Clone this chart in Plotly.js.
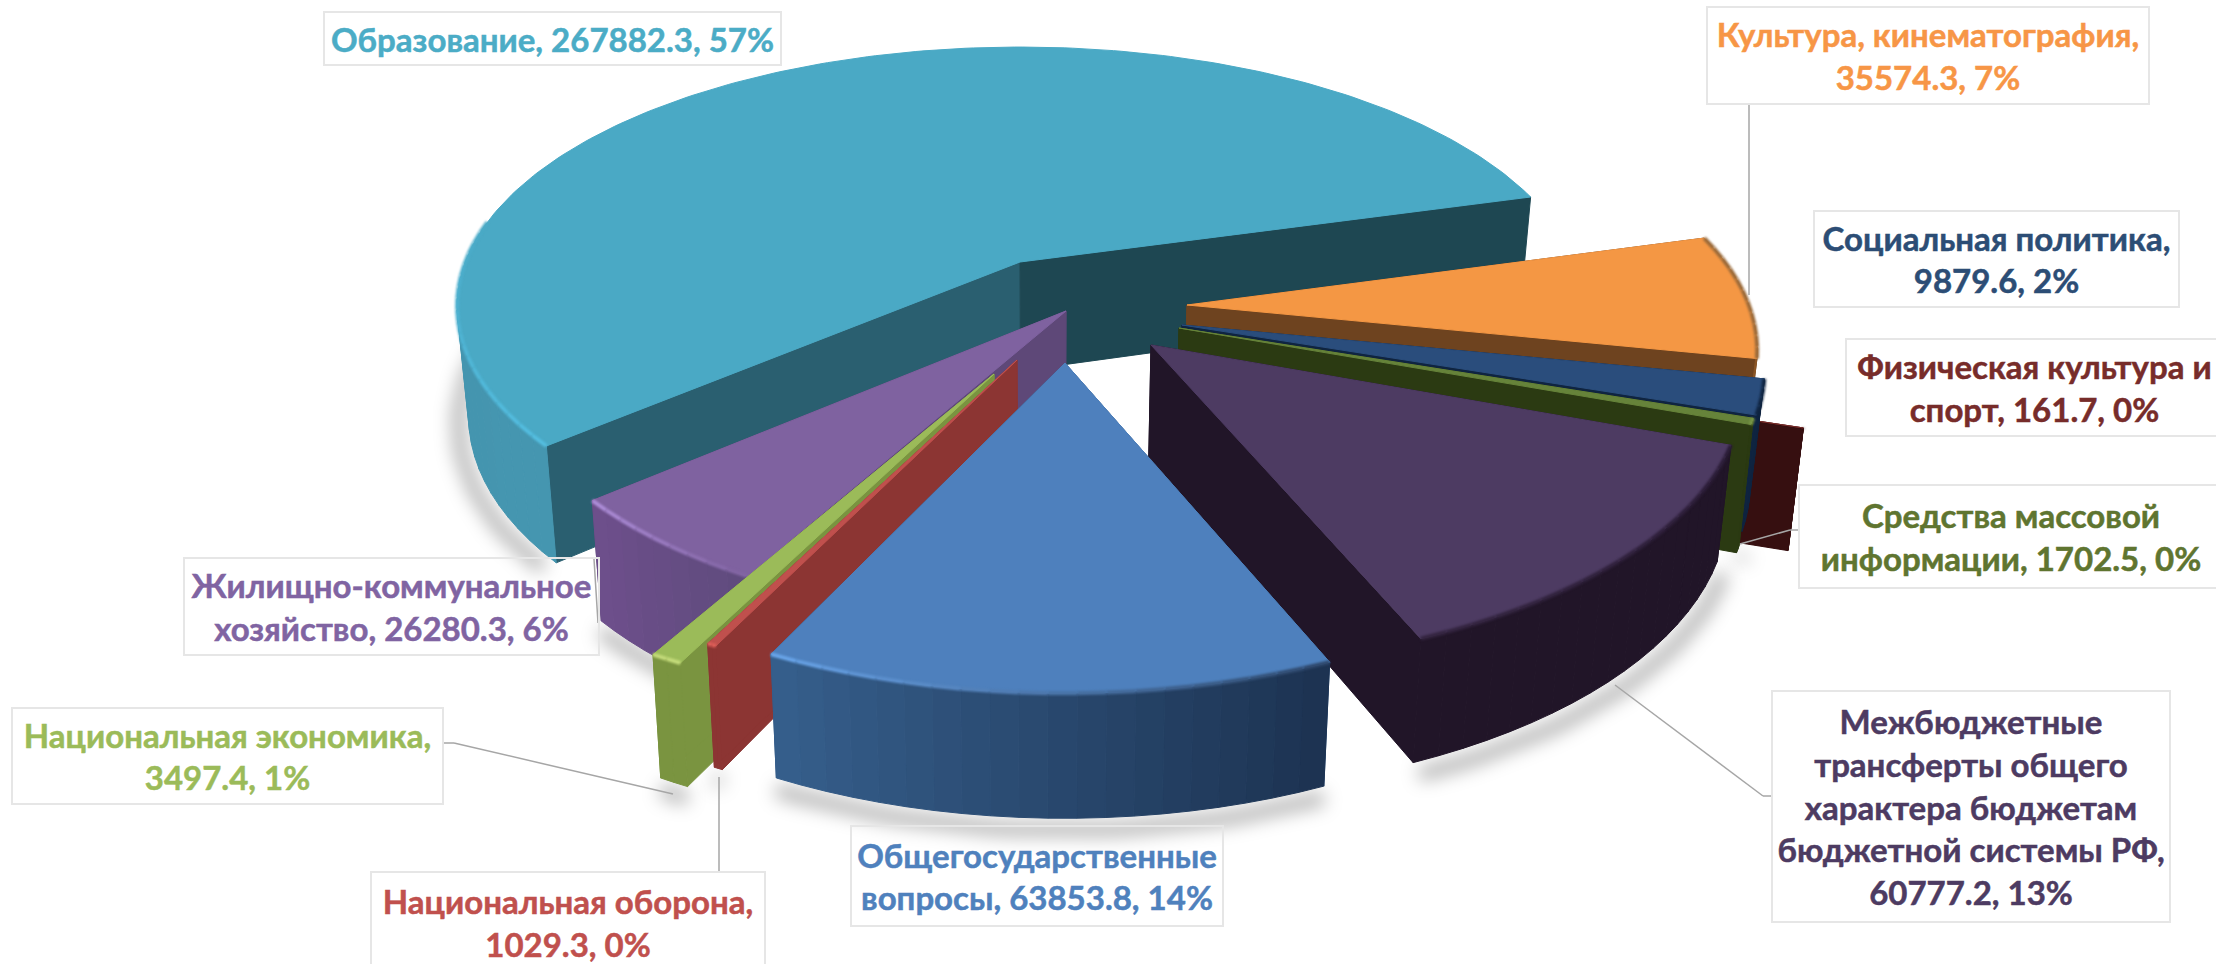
<!DOCTYPE html>
<html><head><meta charset="utf-8">
<script src="https://cdn.plot.ly/plotly-3.0.1.min.js"></script>
<style>html,body{margin:0;padding:0;background:#fff;overflow:hidden}</style></head>
<body><div id="chart" style="width:2216px;height:964px"></div>
<script>
// ---------- data ----------
const categories = ["Общегосударственные вопросы","Национальная оборона","Национальная экономика","Жилищно-коммунальное хозяйство","Образование","Культура, кинематография","Социальная политика","Физическая культура и спорт","Средства массовой информации","Межбюджетные трансферты общего характера бюджетам бюджетной системы РФ"];
const values = [63853.8,1029.3,3497.4,26280.3,267882.3,35574.3,9879.6,161.7,1702.5,60777.2];
const labels = [
 "Общегосударственные<br>вопросы, 63853.8, 14%",
 "Национальная оборона,<br>1029.3, 0%",
 "Национальная экономика,<br>3497.4, 1%",
 "Жилищно-коммунальное<br>хозяйство, 26280.3, 6%",
 "Образование, 267882.3, 57%",
 "Культура, кинематография,<br>35574.3, 7%",
 "Социальная политика,<br>9879.6, 2%",
 "Физическая культура и<br>спорт, 161.7, 0%",
 "Средства массовой<br>информации, 1702.5, 0%",
 "Межбюджетные<br>трансферты общего<br>характера бюджетам<br>бюджетной системы РФ,<br>60777.2, 13%"];
// ---------- style ----------
const labelColors = ["#4F81BD","#C0504D","#9BBB59","#8064A2","#4BACC6","#F79646","#2C4D75","#772C2A","#5F7530","#4D3B62"];
const topColors  = ["#4E80BD","#C0504D","#9BBB59","#7F62A0","#4AA9C5","#F49744","#2A4D7C","#772C2A","#66833A","#4D3B62"];
const wallFrom   = ["#1C3250","#8C3533","#7A9440","#5F4B7D","#4596B0","#A8682F","#0F2440","#360F10","#2B3A12","#211528"];
const wallTo     = ["#365F8D","#8C3533","#7A9440","#6E4F8C","#3E8DA8","#8A5526","#0F2440","#360F10","#2B3A12","#211528"];
const sideFrom   = ["#345B88","#8C3533","#7A9440","#5E4878","#2A5F70","#6E431F","#0F2440","#360F10","#2B3A12","#211528"];
const sideTo     = ["#345B88","#8C3533","#7A9440","#5E4878","#1E4752","#6E431F","#0F2440","#360F10","#2B3A12","#211528"];
const rimFrom    = ["#2C4568","#E0605A","#C3DA7A","#7F62A0","#54BEE0","#9A6A3A","#0F2440","#360F10","#7C9A4A","#2A1C36"];
const rimTo      = ["#6AA5EA","#E0605A","#C3DA7A","#B08FDB","#4AA9C5","#9A6A3A","#0F2440","#360F10","#7C9A4A","#33243F"];
const rimSpan    = [1,1,1,1,0.25,1,1,1,1,1];
const apexX = [1065,1017,994,1066,1020,1187,1182,1214,1179,1151];
const apexY = [363,360,374,311,262,305,325,340,328,345];
const radiusX = [1.035,1.06,1.075,1.005,1.005,1.018,1.04,1.067,1.04,1.055];
const radiusY = [1.09,1.07,1.09,1.03,1.0,1.03,1.035,1.01,1.03,1.07];
const wallScale = [1,1,1,1,0.97,1,1,1.05,1.1,1];
const drawOrder = [4,7,5,6,8,9,3,2,1,0];
const boxes = [[852,1222,827,925],[372,764,873,972],[13,442,709,803],[185,598,559,654],[325,780,13,64],[1708,2148,8,103],[1815,2178,212,306],[1847,2222,340,435],[1800,2222,486,587],[1773,2169,692,921]];
const labelSize = [33,33,33,33,33,33,33,33,33,33];
const leaders = [
 [[1749,103],[1749,295]],
 [[1773,796],[1763,796],[1615,685]],
 [[1800,530],[1790,530],[1740,544]],
 [[443,743],[454,743],[673,794]],
 [[719,777],[719,873]],
 [[594,559],[598,623]]];
// projection constants of the tilted disc
const A = 552, B = 251.5, P = 0.17, startAngle = 157, vanishX = 1040, vanishK = 0.02;

function hex(c){return [1,3,5].map(i=>parseInt(c.substr(i,2),16));}
function mix(a,b,t){const x=hex(a),y=hex(b);return 'rgb('+x.map((v,i)=>Math.round(v+(y[i]-v)*t)).join(',')+')';}
const total = values.reduce((a,b)=>a+b,0);
let acc = startAngle;
const spans = values.map(v=>{const s=acc;acc+=v/total*360;return [s,acc];});

function topPt(i,deg){
  const t=deg*Math.PI/180,X=Math.sin(t),Y=-Math.cos(t),w=1-P*Y;
  return [apexX[i]+radiusX[i]*A*X/w, apexY[i]+radiusY[i]*B*Y/w, Y];
}
function botPt(i,p){
  const h=(112+13*p[2])*wallScale[i];
  return [p[0]+(vanishX-p[0])*vanishK, p[1]+h];
}
const apexTop=i=>[apexX[i],apexY[i],0];
const traces=[], softShadow=[], softRim=[];
function poly(pts,color){
  traces.push({type:'scatter',mode:'lines',x:pts.map(p=>p[0]).concat(pts[0][0]),y:pts.map(p=>p[1]).concat(pts[0][1]),
    fill:'toself',fillcolor:color,line:{color:color,width:1},hoverinfo:'skip',showlegend:false});
}
function path(pts,color,width){
  traces.push({type:'scatter',mode:'lines',x:pts.map(p=>p[0]),y:pts.map(p=>p[1]),line:{color:color,width:width},hoverinfo:'skip',showlegend:false});
  return traces.length-1;
}
// soft ground shadows
const shadowSlices=[[4,230,285,-10,8],[3,null,null,0,10],[2,null,null,0,12],[1,null,null,0,12],[0,null,null,0,12],[9,null,null,6,12],[8,null,null,4,8],[7,null,null,4,8]];
shadowSlices.forEach(([i,a,b,dx,dy])=>{
  const s=a===null?spans[i][0]:a,e=b===null?spans[i][1]:b,pts=[];
  const n=Math.max(2,Math.ceil((e-s)/2));
  for(let k=0;k<=n;k++){const p=topPt(i,s+(e-s)*k/n),q=botPt(i,p);pts.push([q[0]+dx,q[1]+dy]);}
  softShadow.push(path(pts,'rgba(0,0,0,0.30)',14));
});
// slices, back to front
drawOrder.forEach(i=>{
  const [s,e]=spans[i];
  const a0=apexTop(i),a0b=botPt(i,a0);
  const c0=topPt(i,s),c1=topPt(i,e);
  poly([a0,c0,botPt(i,c0),a0b],sideFrom[i]);
  poly([a0,c1,botPt(i,c1),a0b],sideTo[i]);
  const n=Math.max(2,Math.ceil((e-s)/2.5));
  for(let k=0;k<n;k++){
    const p=topPt(i,s+(e-s)*k/n),q=topPt(i,s+(e-s)*(k+1)/n);
    if(Math.max(p[2],q[2])<0.17)continue;   // back-facing part of the rim
    poly([p,q,botPt(i,q),botPt(i,p)],mix(wallFrom[i],wallTo[i],(k+.5)/n));
  }
  const arc=[a0];
  const m=Math.max(2,Math.ceil(e-s));
  for(let k=0;k<=m;k++)arc.push(topPt(i,s+(e-s)*k/m));
  poly(arc,topColors[i]);
  for(let k=0;k<n;k++){
    const p=topPt(i,s+(e-s)*k/n),q=topPt(i,s+(e-s)*(k+1)/n);
    const t=Math.min(1,((k+.5)/n)/rimSpan[i]);
    if(rimSpan[i]<1&&t>=1)continue;
    softRim.push(path([p,q],mix(rimFrom[i],rimTo[i],t),4));
  }
});
const annotations=labels.map((t,i)=>{
  const b=boxes[i];
  return {xref:'x',yref:'y',x:(b[0]+b[1])/2,y:(b[2]+b[3])/2,xanchor:'center',yanchor:'middle',showarrow:false,
    text:t,align:'center',width:b[1]-b[0],height:b[3]-b[2],bordercolor:'#E6E6E6',borderwidth:2,borderpad:0,valign:'middle',
    font:{family:'Lato, "Open Sans", sans-serif',size:labelSize[i],color:labelColors[i],weight:700}};
});
const shapes=[];
leaders.forEach(l=>{for(let k=0;k<l.length-1;k++)shapes.push({type:'line',xref:'x',yref:'y',x0:l[k][0],y0:l[k][1],x1:l[k+1][0],y1:l[k+1][1],line:{color:'#A6A6A6',width:1.5},layer:'above'});});
Plotly.newPlot('chart',traces,{width:2216,height:964,margin:{l:0,r:0,t:0,b:0},paper_bgcolor:'#fff',plot_bgcolor:'#fff',showlegend:false,hovermode:false,
  xaxis:{range:[0,2216],visible:false,fixedrange:true},yaxis:{range:[964,0],visible:false,fixedrange:true},annotations,shapes},{displayModeBar:false,staticPlot:true}).then(gd=>{
  const nodes=gd.querySelectorAll('.scatterlayer .trace');
  softShadow.forEach(k=>{if(nodes[k])nodes[k].style.filter='blur(9px)';});
  softRim.forEach(k=>{if(nodes[k])nodes[k].style.filter='blur(1px)';});
  gd.querySelectorAll('.annotation-text').forEach(n=>{n.style.stroke=n.style.fill;n.style.strokeWidth='0.5px';});
});
</script></body></html>
